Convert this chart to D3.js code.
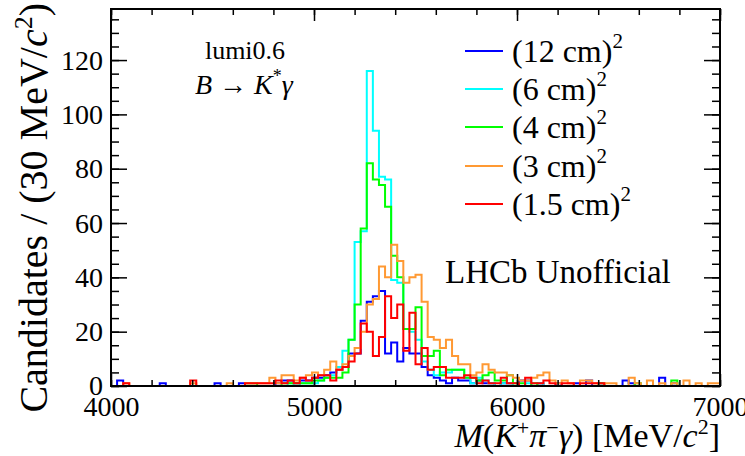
<!DOCTYPE html>
<html lang="en">
  <head>
    <meta charset="UTF-8" />
    <title>B to K* gamma mass, lumi0.6</title>
    <script src="https://d3js.org/d3.v7.min.js"></script>
    <style>
      body {
        margin: 0;
        background: #fff;
      }
      .hist {
        fill: none;
        stroke-width: 2px;
      }
    </style>
  </head>
  <body>
    <svg id="chart" width="745" height="456"></svg>

    <script>
      // 100 bins of 30 MeV from 4000 to 7000
      const xMin = 4000;
      const xMax = 7000;
      const binWidth = 30;

      const xMajor = [4000, 5000, 6000, 7000];
      const yMajor = [0, 20, 40, 60, 80, 100, 120];

      const labels = ["(12 cm)", "(6 cm)", "(4 cm)", "(3 cm)", "(1.5 cm)"];
      const colors = ["#0000ff", "#00ffff", "#00ff00", "#ff9933", "#ff0000"];

      const blue = [
        0, 2, 0, 0, 0, 0, 0, 0, 1, 0, 0, 0, 0, 0, 0, 0, 0, 1, 0, 0,
        0, 1, 0, 0, 0, 0, 0, 1, 2, 2, 1, 2, 2, 3, 3, 4, 5, 6, 7, 12,
        12, 24, 31, 33, 35, 12, 16, 9, 14, 12, 12, 7, 4, 3, 2, 1, 3, 2, 2, 1,
        2, 1, 1, 0, 1, 1, 0, 2, 2, 0, 1, 0, 0, 1, 0, 0, 1, 0, 2, 0,
        1, 0, 0, 0, 2, 1, 0, 0, 0, 0, 3, 0, 1, 0, 0, 0, 0, 0, 0, 0,
      ];
      const cyan = [
        0, 0, 0, 0, 0, 0, 0, 0, 0, 0, 0, 0, 0, 0, 0, 0, 0, 0, 0, 0,
        0, 0, 0, 0, 0, 0, 0, 0, 0, 1, 0, 1, 1, 1, 2, 3, 4, 7, 13, 17,
        53, 57, 116, 94, 77, 76, 39, 38, 21, 20, 17, 9, 6, 4, 5, 5, 6, 6, 3, 1,
        3, 2, 1, 0, 1, 1, 0, 0, 1, 0, 1, 0, 0, 0, 0, 0, 0, 0, 0, 0,
        0, 0, 0, 0, 0, 0, 0, 0, 0, 0, 0, 0, 0, 0, 0, 0, 0, 0, 0, 0,
      ];
      const green = [
        0, 0, 0, 0, 0, 0, 0, 0, 0, 0, 0, 0, 0, 0, 0, 0, 0, 0, 0, 0,
        0, 0, 1, 1, 0, 0, 0, 0, 1, 1, 1, 1, 1, 2, 2, 3, 3, 3, 5, 17,
        30, 58, 82, 76, 74, 66, 48, 40, 21, 21, 29, 11, 11, 13, 4, 6, 6, 6, 3, 3,
        2, 4, 5, 2, 2, 4, 1, 1, 0, 1, 0, 0, 0, 0, 0, 0, 0, 0, 0, 0,
        1, 0, 0, 0, 0, 0, 1, 0, 0, 0, 0, 0, 2, 0, 0, 0, 0, 0, 0, 0,
      ];
      const orange = [
        0, 0, 1, 0, 0, 0, 0, 0, 0, 0, 0, 0, 0, 1, 0, 0, 0, 0, 0, 1,
        0, 0, 1, 1, 1, 1, 3, 1, 4, 4, 2, 3, 4, 5, 4, 6, 9, 6, 8, 11,
        14, 20, 30, 32, 44, 40, 52, 46, 38, 40, 41, 31, 18, 17, 14, 17, 11, 8, 8, 4,
        5, 8, 6, 5, 5, 4, 3, 2, 2, 3, 4, 5, 2, 1, 2, 1, 0, 2, 2, 1,
        0, 1, 1, 0, 0, 3, 1, 0, 2, 0, 1, 0, 1, 0, 2, 0, 1, 0, 1, 1,
      ];
      const red = [
        0, 0, 1, 0, 0, 0, 0, 0, 0, 0, 0, 0, 0, 2, 0, 0, 0, 0, 0, 0,
        0, 0, 1, 1, 1, 1, 1, 2, 1, 2, 1, 3, 2, 3, 4, 4, 2, 6, 7, 9,
        12, 23, 20, 11, 18, 33, 25, 30, 13, 27, 8, 14, 6, 7, 7, 3, 3, 3, 4, 3,
        1, 2, 1, 1, 3, 1, 1, 0, 3, 1, 1, 2, 1, 0, 1, 1, 0, 1, 1, 1,
        1, 0, 0, 0, 0, 0, 0, 0, 0, 0, 0, 0, 0, 0, 0, 0, 0, 0, 0, 0,
      ];
      const series = [blue, cyan, green, orange, red];

      const serif = "'Liberation Serif', 'Times New Roman', Times, serif";

      const svg = d3.select("#chart");
      const frame = { left: 111, right: 720, top: 9, bottom: 386 };

      const x = d3.scaleLinear().domain([xMin, xMax]).range([frame.left, frame.right]);
      const y = d3.scaleLinear().domain([0, 138.8]).range([frame.bottom, frame.top]);

      svg.append("clipPath")
        .attr("id", "clip")
        .append("rect")
        .attr("x", frame.left)
        .attr("y", frame.top)
        .attr("width", frame.right - frame.left)
        .attr("height", frame.bottom - frame.top);

      // histograms as step lines
      const step = d3
        .line()
        .x((d) => x(d.x))
        .y((d) => y(d.v))
        .curve(d3.curveStepAfter);

      const plot = svg.append("g").attr("clip-path", "url(#clip)");
      series.forEach((vals, k) => {
        const pts = vals.map((v, i) => ({ x: xMin + i * binWidth, v: v }));
        pts.push({ x: xMax, v: vals[vals.length - 1] });
        plot.append("path")
          .datum(pts)
          .attr("class", "hist")
          .attr("stroke", colors[k])
          .attr("d", step);
      });

      // axes, ticks pointing inwards, mirrored on top / right
      const xMinor = d3.range(xMin, xMax + 1, 200);
      const yMinor = d3.range(0, 136, 5);

      function styleAxis(anchor) {
        return (g) => {
          g.select(".domain").remove();
          g.selectAll("line").attr("stroke", "#000").attr("stroke-width", 1.5);
          g.selectAll("text")
            .attr("font-size", 28)
            .attr("font-family", serif)
            .attr("text-anchor", anchor)
            .attr("fill", "#000");
        };
      }

      svg.append("g")
        .attr("transform", `translate(0,${frame.bottom})`)
        .call(d3.axisBottom(x).tickValues(xMinor).tickSize(-6).tickFormat(""))
        .call(styleAxis("middle"));
      svg.append("g")
        .attr("transform", `translate(0,${frame.bottom})`)
        .call(d3.axisBottom(x).tickValues(xMajor).tickSize(-12).tickPadding(10).tickFormat(d3.format("d")))
        .call(styleAxis("middle"));
      svg.append("g")
        .attr("transform", `translate(0,${frame.top})`)
        .call(d3.axisTop(x).tickValues(xMinor).tickSize(-6).tickFormat(""))
        .call(styleAxis("middle"));
      svg.append("g")
        .attr("transform", `translate(0,${frame.top})`)
        .call(d3.axisTop(x).tickValues(xMajor).tickSize(-12).tickFormat(""))
        .call(styleAxis("middle"));

      svg.append("g")
        .attr("transform", `translate(${frame.left},0)`)
        .call(d3.axisLeft(y).tickValues(yMinor).tickSize(-8).tickFormat(""))
        .call(styleAxis("end"));
      svg.append("g")
        .attr("transform", `translate(${frame.left},0)`)
        .call(d3.axisLeft(y).tickValues(yMajor).tickSize(-16).tickPadding(8).tickFormat(d3.format("d")))
        .call(styleAxis("end"));
      svg.append("g")
        .attr("transform", `translate(${frame.right},0)`)
        .call(d3.axisRight(y).tickValues(yMinor).tickSize(-8).tickFormat(""))
        .call(styleAxis("start"));
      svg.append("g")
        .attr("transform", `translate(${frame.right},0)`)
        .call(d3.axisRight(y).tickValues(yMajor).tickSize(-16).tickFormat(""))
        .call(styleAxis("start"));

      svg.append("rect")
        .attr("x", frame.left)
        .attr("y", frame.top)
        .attr("width", frame.right - frame.left)
        .attr("height", frame.bottom - frame.top)
        .attr("fill", "none")
        .attr("stroke", "#000")
        .attr("stroke-width", 2);

      function addText(parent, px, py, size, anchor) {
        return parent.append("text")
          .attr("x", px)
          .attr("y", py)
          .attr("font-size", size)
          .attr("font-family", serif)
          .attr("text-anchor", anchor)
          .attr("fill", "#000");
      }

      // axis titles
      const xt = addText(svg, 720, 447, 34, "end");
      xt.append("tspan").attr("font-style", "italic").text("M");
      xt.append("tspan").text("(");
      xt.append("tspan").attr("font-style", "italic").text("K");
      xt.append("tspan").attr("font-size", 22).attr("dy", -12).text("+");
      xt.append("tspan").attr("font-style", "italic").attr("dy", 12).text("π");
      xt.append("tspan").attr("font-size", 22).attr("dy", -12).text("−");
      xt.append("tspan").attr("font-style", "italic").attr("dy", 12).text("γ");
      xt.append("tspan").text(") [MeV/");
      xt.append("tspan").attr("font-style", "italic").text("c");
      xt.append("tspan").attr("font-size", 22).attr("dy", -13).text("2");
      xt.append("tspan").attr("dy", 13).text("]");

      const yt = addText(svg, 0, 0, 40, "end")
        .attr("transform", "translate(47,3) rotate(-90)");
      yt.append("tspan").text("Candidates / (30 MeV/");
      yt.append("tspan").attr("font-style", "italic").text("c");
      yt.append("tspan").attr("font-size", 26).attr("dy", -15).text("2");
      yt.append("tspan").attr("dy", 15).text(")");

      // labels
      addText(svg, 245, 59, 26, "middle").text("lumi0.6");

      const dec = addText(svg, 195, 94, 28, "start");
      dec.append("tspan").attr("font-style", "italic").text("B");
      dec.append("tspan").text(" → ");
      dec.append("tspan").attr("font-style", "italic").text("K");
      dec.append("tspan").attr("font-size", 18).attr("dy", -12).text("*");
      dec.append("tspan").attr("font-style", "italic").attr("dy", 12).text("γ");

      addText(svg, 445, 283, 33, "start").text("LHCb Unofficial");

      // legend
      const legY = [51, 89, 127, 166, 204];
      const leg = svg.append("g");
      labels.forEach((lab, k) => {
        leg.append("line")
          .attr("x1", 465)
          .attr("x2", 503)
          .attr("y1", legY[k])
          .attr("y2", legY[k])
          .attr("stroke", colors[k])
          .attr("stroke-width", 2);
        const t = addText(leg, 512, legY[k] + 11, 32, "start");
        t.append("tspan").text(lab);
        t.append("tspan").attr("font-size", 21).attr("dy", -14).text("2");
      });
    </script>
  </body>
</html>
